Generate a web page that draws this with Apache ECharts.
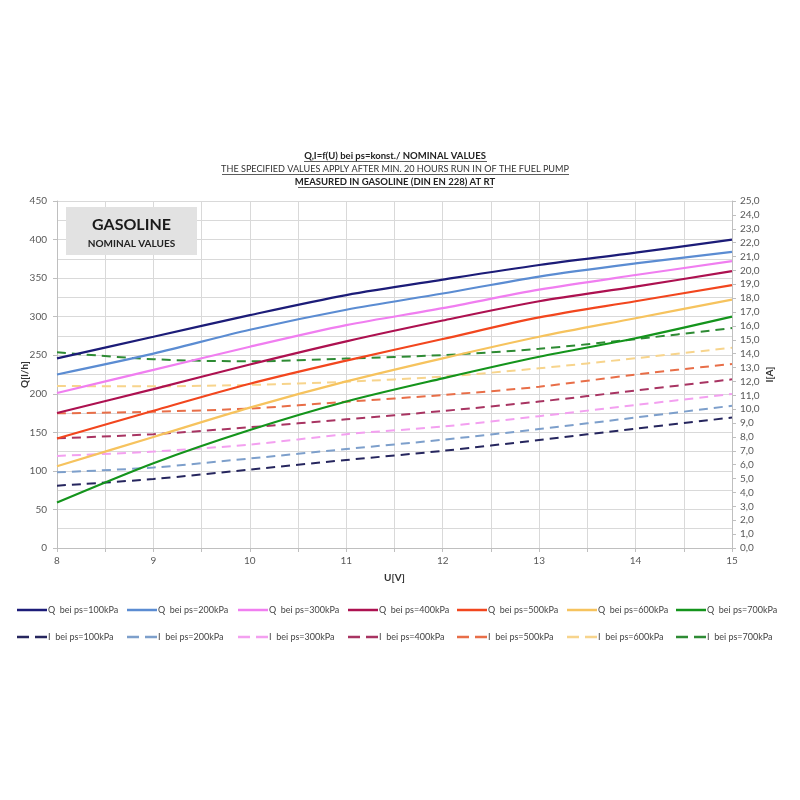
<!DOCTYPE html>
<html>
<head>
<meta charset="utf-8">
<script src="https://cdn.jsdelivr.net/npm/echarts@6/dist/echarts.min.js"></script>
<style>html,body{margin:0;padding:0;background:#fff}#c{width:800px;height:800px}</style>
</head>
<body>
<div id="c"></div>
<script>
const U = [8, 9, 10, 11, 12, 13, 14, 15];
const Q100 = [246, 274, 302, 328, 348, 367, 383, 400];
const Q200 = [225, 252, 283, 309, 330, 352, 369, 384];
const Q300 = [201, 231, 261, 289, 311, 335, 354, 372];
const Q400 = [175, 206, 238, 268, 295, 320, 339, 359];
const Q500 = [142, 178, 213, 243, 271, 299, 320, 341];
const Q600 = [106, 144, 182, 216, 246, 274, 298, 322];
const Q700 = [59, 110, 153, 190, 220, 248, 272, 300];
const I100 = [4.49, 4.97, 5.65, 6.34, 7.0, 7.78, 8.6, 9.4];
const I200 = [5.45, 5.8, 6.45, 7.13, 7.8, 8.57, 9.4, 10.25];
const I300 = [6.63, 6.95, 7.45, 8.2, 8.75, 9.5, 10.3, 11.1];
const I400 = [7.9, 8.2, 8.7, 9.27, 9.87, 10.55, 11.35, 12.15];
const I500 = [9.7, 9.82, 10.05, 10.54, 11.02, 11.62, 12.5, 13.26];
const I600 = [11.67, 11.65, 11.75, 11.98, 12.35, 12.95, 13.67, 14.43];
const I700 = [14.1, 13.6, 13.45, 13.65, 13.9, 14.35, 15.05, 15.85];
const pressures = ['100', '200', '300', '400', '500', '600', '700'];
const qSeries = [Q100, Q200, Q300, Q400, Q500, Q600, Q700];
const iSeries = [I100, I200, I300, I400, I500, I600, I700];
const qColors = ['#1c1c78', '#5b8cd2', '#f07ef0', '#ad1150', '#f2461e', '#f6c35e', '#14941c'];
const iColors = ['#26265e', '#7d9fcb', '#f3a0f0', '#a83462', '#e86e48', '#f7d48c', '#2e8b34'];
const titleLines = [
  'Q,I=f(U) bei ps=konst./ NOMINAL VALUES',
  'THE SPECIFIED VALUES APPLY AFTER MIN. 20 HOURS RUN IN OF THE FUEL PUMP',
  'MEASURED IN GASOLINE (DIN EN 228) AT RT'
];

const FONT = 'Lato';
const series = [];
const legendGraphics = [];
const legendX = [17, 127, 238, 348, 457, 567, 676];
const rowY = [610, 637];

function addLegendItem(name, color, x, y, dashed) {
  legendGraphics.push({
    type: 'line', shape: { x1: x, y1: y, x2: x + 30, y2: y },
    style: { stroke: color, lineWidth: 2.5, lineDash: dashed ? [12, 6] : null }
  });
  legendGraphics.push({
    type: 'text', x: x + 31, y: y,
    style: { text: name, fontFamily: FONT, fontSize: 9, fill: '#444', align: 'left', verticalAlign: 'middle' }
  });
}

pressures.forEach((p, k) => {
  const name = 'Q  bei ps=' + p + 'kPa';
  series.push({
    name, type: 'line', xAxisIndex: 0, yAxisIndex: 0, smooth: 0.3,
    showSymbol: false, symbol: 'none',
    data: U.map((u, i) => [u, qSeries[k][i]]),
    lineStyle: { color: qColors[k], width: 2.2 }, itemStyle: { color: qColors[k] },
    z: 3
  });
  addLegendItem(name, qColors[k], legendX[k], rowY[0], false);
});
pressures.forEach((p, k) => {
  const name = 'I  bei ps=' + p + 'kPa';
  series.push({
    name, type: 'line', xAxisIndex: 0, yAxisIndex: 1, smooth: 0.3,
    showSymbol: false, symbol: 'none',
    data: U.map((u, i) => [u, iSeries[k][i]]),
    lineStyle: { color: iColors[k], width: 2, type: [9, 6] }, itemStyle: { color: iColors[k] },
    z: 2
  });
  addLegendItem(name, iColors[k], legendX[k], rowY[1], true);
});

const gridColor = '#d9d9d9';
const axisColor = '#bfbfbf';
const labelStyle = { fontFamily: FONT, fontSize: 10, color: '#595959' };

const chart = echarts.init(document.getElementById('c'), null, { renderer: 'canvas' });
chart.setOption({
  animation: false,
  backgroundColor: '#fff',
  grid: { left: 57, right: 68, top: 201, bottom: 252, containLabel: false },
  xAxis: {
    type: 'value', min: 8, max: 15, interval: 1,
    name: 'U[V]', nameLocation: 'middle', nameGap: 25, nameMoveOverlap: false,
    nameTextStyle: { fontFamily: FONT, fontSize: 10, color: '#333', fontWeight: 'bold' },
    axisLine: { show: true, onZero: false, lineStyle: { color: axisColor } },
    axisTick: { show: true, length: 4, lineStyle: { color: axisColor } },
    minorTick: { show: true, splitNumber: 2, length: 4, lineStyle: { color: axisColor } },
    splitLine: { show: true, lineStyle: { color: gridColor, width: 1 } },
    minorSplitLine: { show: true, lineStyle: { color: gridColor, width: 1 } },
    axisLabel: Object.assign({ margin: 8 }, labelStyle)
  },
  yAxis: [{
    type: 'value', min: 0, max: 450, interval: 50, position: 'left',
    name: 'Q[l/h]', nameLocation: 'middle', nameGap: 27, nameRotate: 90, nameMoveOverlap: false,
    nameTextStyle: { fontFamily: FONT, fontSize: 10, color: '#333', fontWeight: 'bold' },
    axisLine: { show: true, lineStyle: { color: axisColor } },
    axisTick: { show: true, length: 4, lineStyle: { color: axisColor } },
    splitLine: { show: true, lineStyle: { color: gridColor, width: 1 } },
    minorSplitLine: { show: true, lineStyle: { color: gridColor, width: 1 } },
    minorTick: { show: false, splitNumber: 2 },
    axisLabel: Object.assign({ margin: 10 }, labelStyle)
  }, {
    type: 'value', min: 0, max: 25, interval: 1, position: 'right',
    name: 'I[A]', nameLocation: 'middle', nameGap: 33, nameRotate: 90, nameMoveOverlap: false,
    nameTextStyle: { fontFamily: FONT, fontSize: 10, color: '#333', fontWeight: 'bold' },
    axisLine: { show: true, lineStyle: { color: axisColor } },
    axisTick: { show: true, length: 4, lineStyle: { color: axisColor } },
    splitLine: { show: false },
    axisLabel: Object.assign({ margin: 8, formatter: v => v.toFixed(1).replace('.', ',') }, labelStyle)
  }],
  series,
  graphic: [
    { type: 'rect', left: 66, top: 207, shape: { width: 131, height: 48 }, style: { fill: '#e2e2e2' }, z: 10 },
    { type: 'text', x: 131.5, y: 225, style: { text: 'GASOLINE', fontFamily: FONT, fontWeight: 'bold', fontSize: 16, fill: '#1a1a1a', align: 'center', verticalAlign: 'middle' }, z: 11 },
    { type: 'text', x: 131.5, y: 244, style: { text: 'NOMINAL VALUES', fontFamily: FONT, fontWeight: 'bold', fontSize: 10, fill: '#222', align: 'center', verticalAlign: 'middle' }, z: 11 },
    { type: 'text', x: 395, y: 156, style: { text: titleLines[0], fontFamily: FONT, fontWeight: 'bold', fontSize: 9.5, fill: '#222', align: 'center', verticalAlign: 'middle' } },
    { type: 'text', x: 395, y: 169, style: { text: titleLines[1], fontFamily: FONT, fontSize: 9.1, fill: '#333', align: 'center', verticalAlign: 'middle' } },
    { type: 'text', x: 395, y: 182, style: { text: titleLines[2], fontFamily: FONT, fontWeight: 'bold', fontSize: 9.5, fill: '#222', align: 'center', verticalAlign: 'middle' } },
    { type: 'line', shape: { x1: 304, y1: 161.5, x2: 487, y2: 161.5 }, style: { stroke: '#333', lineWidth: 0.8 } },
    { type: 'line', shape: { x1: 222, y1: 174.5, x2: 569, y2: 174.5 }, style: { stroke: '#333', lineWidth: 0.8 } },
    { type: 'line', shape: { x1: 298, y1: 187.5, x2: 493, y2: 187.5 }, style: { stroke: '#333', lineWidth: 0.8 } }
  ].concat(legendGraphics)
});
</script>
</body>
</html>
